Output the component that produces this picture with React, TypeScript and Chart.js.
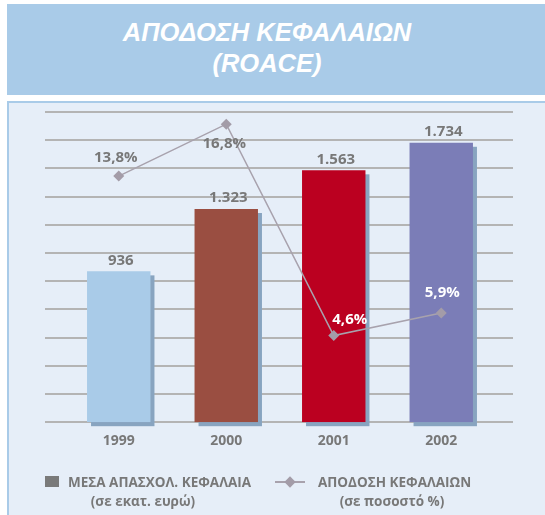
import React, { useEffect, useRef } from "react";
import { Chart, registerables } from "chart.js";
Chart.register(...registerables);

const years = ["1999", "2000", "2001", "2002"];
const capital = [936, 1323, 1563, 1734];
const roace = [13.8, 16.8, 4.6, 5.9];
const capitalLabels = ["936", "1.323", "1.563", "1.734"];
const roaceLabels = ["13,8%", "16,8%", "4,6%", "5,9%"];
const capitalMax = 1925;
const capitalStep = 175;
const roaceMin = -0.4;
const roaceMax = 17.5;

const barColors = ["#a9cbe8", "#9a4e41", "#bb0020", "#7b7db7"];
const TEXT_GRAY = "#787878";
const LINE_COLOR = "#a8a2ad";
const FONT = "'Open Sans', 'DejaVu Sans', sans-serif";

// label placement style (offsets in px relative to the point) and colors
const roaceLabelStyle = [
  { dx: -3, dy: -18, color: TEXT_GRAY },
  { dx: -2, dy: 20, color: TEXT_GRAY },
  { dx: 16, dy: -16, color: "#ffffff" },
  { dx: 1, dy: -20, color: "#ffffff" },
];

const decorPlugin = {
  id: "decor",
  beforeDatasetsDraw(chart: any) {
    const ctx = chart.ctx;
    const y = chart.scales.y;
    const area = chart.chartArea;
    ctx.save();
    ctx.strokeStyle = "#b4b4b4";
    ctx.lineWidth = 2;
    for (let v = 0; v <= capitalMax + 0.001; v += capitalStep) {
      const py = Math.round(y.getPixelForValue(v));
      ctx.beginPath();
      ctx.moveTo(area.left - 20, py);
      ctx.lineTo(area.right + 18, py);
      ctx.stroke();
    }
    // bar shadows
    const meta = chart.getDatasetMeta(0);
    ctx.fillStyle = "#88a4c0";
    meta.data.forEach((bar: any) => {
      const w = bar.width;
      ctx.fillRect(bar.x - w / 2 + 4, bar.y + 4, w, bar.base - bar.y);
    });
    ctx.restore();
  },
  afterDatasetsDraw(chart: any) {
    const ctx = chart.ctx;
    ctx.save();
    ctx.textAlign = "center";
    ctx.textBaseline = "middle";
    ctx.font = `bold 15px ${FONT}`;
    const barMeta = chart.getDatasetMeta(0);
    barMeta.data.forEach((bar: any, i: number) => {
      ctx.fillStyle = TEXT_GRAY;
      ctx.fillText(capitalLabels[i], bar.x + 2, bar.y - 11);
    });
    const lineMeta = chart.getDatasetMeta(1);
    lineMeta.data.forEach((pt: any, i: number) => {
      const s = roaceLabelStyle[i];
      ctx.fillStyle = s.color;
      ctx.fillText(roaceLabels[i], pt.x + s.dx, pt.y + s.dy);
    });
    ctx.restore();
  },
};

function ChartCanvas() {
  const ref = useRef<HTMLCanvasElement | null>(null);
  useEffect(() => {
    if (!ref.current) return;
    const chart = new Chart(ref.current, {
      type: "bar",
      data: {
        labels: years,
        datasets: [
          {
            type: "bar",
            label: "capital",
            data: capital,
            backgroundColor: barColors,
            borderWidth: 0,
            categoryPercentage: 1,
            barPercentage: 0.59,
            yAxisID: "y",
            order: 2,
          } as any,
          {
            type: "line",
            label: "roace",
            data: roace,
            borderColor: LINE_COLOR,
            borderWidth: 1.5,
            pointStyle: "rectRot",
            pointRadius: 5.5,
            pointBackgroundColor: "#a39ca8",
            pointBorderWidth: 0,
            tension: 0,
            yAxisID: "y1",
            order: 1,
          } as any,
        ],
      },
      options: {
        responsive: false,
        animation: false,
        devicePixelRatio: 1,
        layout: { padding: { left: 65, right: 50, top: 112, bottom: 56 } },
        plugins: { legend: { display: false }, tooltip: { enabled: false }, title: { display: false } },
        scales: {
          x: {
            grid: { display: false, drawTicks: false },
            border: { display: false },
            ticks: {
              color: TEXT_GRAY,
              font: { family: FONT, size: 14, weight: "bold" },
              padding: 10,
            },
          },
          y: { display: false, min: 0, max: capitalMax, ticks: { stepSize: capitalStep } },
          y1: { display: false, min: roaceMin, max: roaceMax },
        },
      } as any,
      plugins: [decorPlugin],
    });
    return () => chart.destroy();
  }, []);
  return (
    <canvas
      ref={ref}
      width={545}
      height={515}
      style={{ position: "absolute", left: 0, top: 0, width: 545, height: 515 }}
    />
  );
}

const legendText: React.CSSProperties = {
  position: "absolute",
  fontFamily: FONT,
  fontWeight: 700,
  fontSize: 13.5,
  color: TEXT_GRAY,
  lineHeight: "16px",
  height: 16,
  whiteSpace: "nowrap",
};

export default function App() {
  return (
    <div
      style={{
        position: "absolute",
        left: 0,
        top: 0,
        width: 545,
        height: 515,
        background: "#ffffff",
        overflow: "hidden",
      }}
    >
      <div
        style={{
          position: "absolute",
          left: 7,
          top: 4,
          width: 540,
          height: 91,
          background: "#a9cbe8",
        }}
      />
      <div
        style={{
          position: "absolute",
          left: 0,
          width: 534,
          top: 17,
          textAlign: "center",
          fontFamily: "'Liberation Sans', Arial, sans-serif",
          fontStyle: "italic",
          fontWeight: 700,
          fontSize: 25.5,
          lineHeight: "31px",
          color: "#ffffff",
        }}
      >
        <div>ΑΠΟΔΟΣΗ ΚΕΦΑΛΑΙΩΝ</div>
        <div>(ROACE)</div>
      </div>
      <div
        style={{
          position: "absolute",
          left: 7,
          top: 101,
          width: 560,
          height: 430,
          boxSizing: "border-box",
          border: "2px solid #a9cbe8",
          background: "#e6eef8",
        }}
      />
      <ChartCanvas />
      <div
        style={{
          position: "absolute",
          left: 45,
          top: 476,
          width: 14,
          height: 11,
          background: "#7a7a7a",
        }}
      />
      <div style={{ ...legendText, left: 68, top: 474 }}>ΜΕΣΑ ΑΠΑΣΧΟΛ. ΚΕΦΑΛΑΙΑ</div>
      <div style={{ ...legendText, left: 43, width: 200, top: 493, textAlign: "center" }}>(σε εκατ. ευρώ)</div>
      <div
        style={{
          position: "absolute",
          left: 275,
          top: 481,
          width: 30,
          height: 1.5,
          background: LINE_COLOR,
        }}
      />
      <div
        style={{
          position: "absolute",
          left: 286,
          top: 478,
          width: 8,
          height: 8,
          background: "#a39ca8",
          transform: "rotate(45deg)",
        }}
      />
      <div style={{ ...legendText, left: 318, top: 474 }}>ΑΠΟΔΟΣΗ ΚΕΦΑΛΑΙΩΝ</div>
      <div style={{ ...legendText, left: 292, width: 200, top: 493, textAlign: "center" }}>(σε ποσοστό %)</div>
    </div>
  );
}
